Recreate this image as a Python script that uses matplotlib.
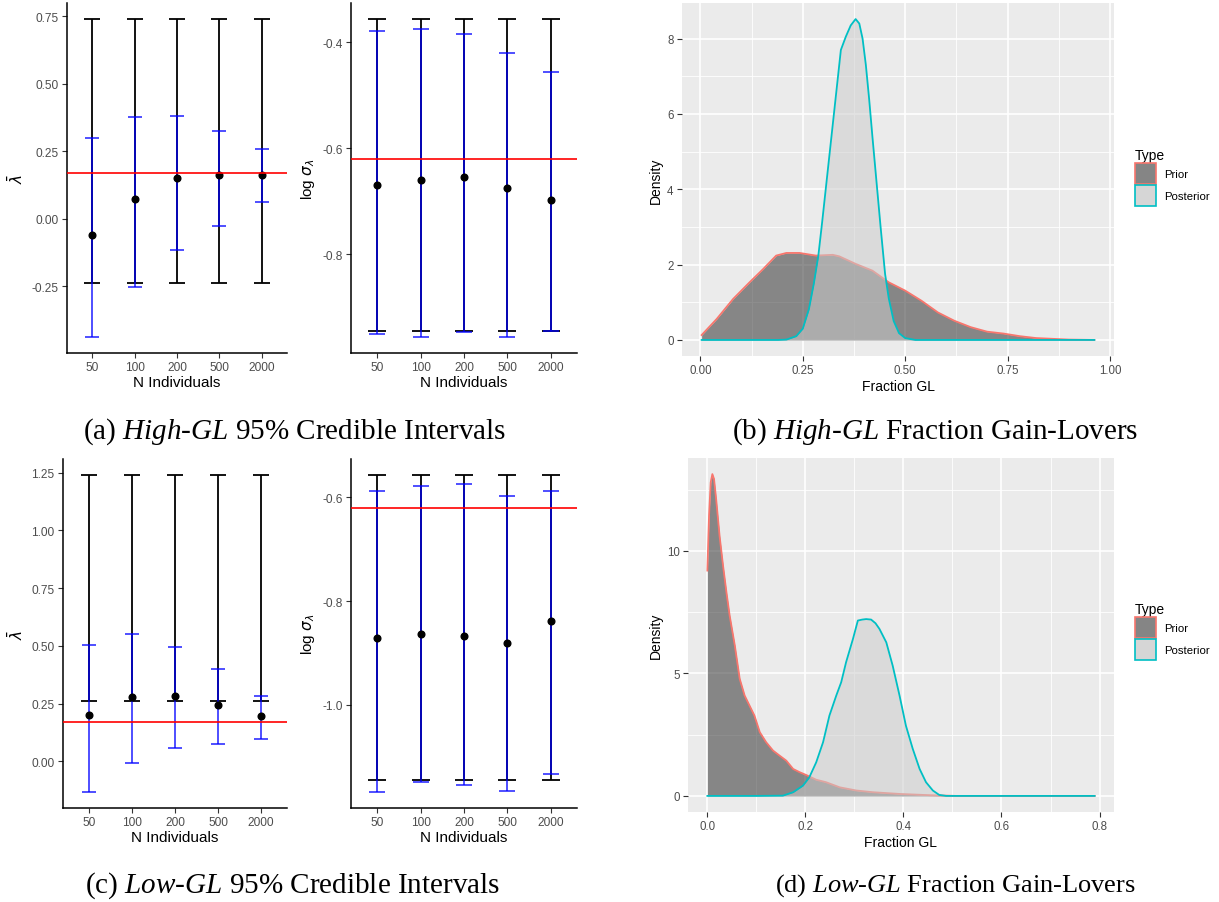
import matplotlib
matplotlib.use('Agg')
import matplotlib.pyplot as plt
from matplotlib.patches import Patch
from matplotlib.ticker import FixedLocator, FormatStrFormatter
import numpy as np

W, H = 1219, 903
plt.rcParams['font.family'] = ['Liberation Sans', 'DejaVu Sans']
plt.rcParams['axes.unicode_minus'] = False
plt.rcParams['mathtext.fontset'] = 'custom'
plt.rcParams['mathtext.rm'] = 'Liberation Serif'
plt.rcParams['mathtext.it'] = 'Liberation Serif:italic'

# ---------------- data ----------------
n_labels = ['50', '100', '200', '500', '2000']

# (a) High-GL, lambda-bar
a_black_lo = [-0.24, -0.24, -0.24, -0.24, -0.24]
a_black_hi = [0.74, 0.74, 0.74, 0.74, 0.74]
a_blue_lo = [-0.439, -0.254, -0.116, -0.026, 0.063]
a_blue_hi = [0.297, 0.376, 0.382, 0.325, 0.257]
a_point = [-0.059, 0.073, 0.150, 0.162, 0.162]
a_ref = 0.17

# (a) High-GL, log sigma
b_black_lo = [-0.944, -0.944, -0.944, -0.944, -0.944]
b_black_hi = [-0.356, -0.356, -0.356, -0.356, -0.356]
b_blue_lo = [-0.951, -0.956, -0.946, -0.956, -0.945]
b_blue_hi = [-0.379, -0.375, -0.384, -0.421, -0.456]
b_point = [-0.670, -0.660, -0.655, -0.674, -0.697]
b_ref = -0.62

# (c) Low-GL, lambda-bar
c_black_lo = [0.26, 0.26, 0.26, 0.26, 0.26]
c_black_hi = [1.24, 1.24, 1.24, 1.24, 1.24]
c_blue_lo = [-0.133, -0.009, 0.058, 0.076, 0.098]
c_blue_hi = [0.503, 0.552, 0.494, 0.402, 0.285]
c_point = [0.202, 0.277, 0.285, 0.244, 0.197]
c_ref = 0.17

# (c) Low-GL, log sigma
d_black_lo = [-1.144, -1.144, -1.144, -1.144, -1.144]
d_black_hi = [-0.557, -0.557, -0.557, -0.557, -0.557]
d_blue_lo = [-1.168, -1.148, -1.155, -1.166, -1.133]
d_blue_hi = [-0.589, -0.579, -0.574, -0.598, -0.589]
d_point = [-0.872, -0.863, -0.868, -0.880, -0.838]
d_ref = -0.62

# (b) High-GL densities
hp_x = [0.003, 0.04, 0.08, 0.12, 0.153, 0.185, 0.21, 0.242, 0.282, 0.323, 0.339,
        0.379, 0.42, 0.46, 0.50, 0.54, 0.58, 0.62, 0.66, 0.70, 0.74, 0.78, 0.82,
        0.86, 0.90, 0.962]
hp_y = [0.13, 0.56, 1.09, 1.53, 1.88, 2.24, 2.31, 2.31, 2.24, 2.26, 2.22,
        2.02, 1.84, 1.53, 1.31, 1.04, 0.73, 0.51, 0.34, 0.22, 0.17, 0.10, 0.05,
        0.03, 0.01, 0.0]
hq_x = [0.003, 0.10, 0.19, 0.21, 0.234, 0.25, 0.265, 0.277, 0.288, 0.297, 0.313,
        0.329, 0.343, 0.355, 0.367, 0.379, 0.388, 0.396, 0.404, 0.412, 0.42, 0.43,
        0.44, 0.451, 0.46, 0.472, 0.485, 0.50, 0.525, 0.60, 0.962]
hq_y = [0.0, 0.0, 0.0, 0.01, 0.10, 0.30, 0.82, 1.50, 2.24, 3.10, 4.70,
        6.30, 7.70, 8.05, 8.35, 8.52, 8.40, 8.00, 7.30, 6.40, 5.40, 4.20,
        3.00, 1.75, 1.10, 0.50, 0.18, 0.05, 0.0, 0.0, 0.0]

# (d) Low-GL densities
lp_x = [0.0, 0.0034, 0.0068, 0.0102, 0.0136, 0.018, 0.025, 0.032, 0.039, 0.0455,
        0.056, 0.066, 0.076, 0.086, 0.096, 0.107, 0.12, 0.134, 0.147, 0.161,
        0.175, 0.188, 0.202, 0.222, 0.242, 0.27, 0.304, 0.338, 0.392, 0.453,
        0.507, 0.79]
lp_y = [9.2, 11.44, 12.8, 13.14, 12.94, 12.1, 10.6, 9.4, 8.3, 7.36,
        6.14, 4.78, 4.1, 3.69, 3.28, 2.6, 2.19, 1.85, 1.65, 1.44,
        1.1, 0.97, 0.85, 0.66, 0.56, 0.35, 0.22, 0.15, 0.08, 0.03,
        0.0, 0.0]
lq_x = [0.0, 0.10, 0.154, 0.175, 0.195, 0.208, 0.222, 0.236, 0.249, 0.263, 0.273,
        0.283, 0.297, 0.307, 0.316, 0.324, 0.334, 0.343, 0.351, 0.365, 0.378,
        0.392, 0.405, 0.419, 0.433, 0.446, 0.46, 0.473, 0.487, 0.79]
lq_y = [0.0, 0.0, 0.01, 0.15, 0.42, 0.76, 1.37, 2.19, 3.28, 4.1, 4.64,
        5.46, 6.41, 7.16, 7.2, 7.22, 7.2, 7.05, 6.82, 6.27, 5.32,
        4.1, 2.87, 1.92, 1.1, 0.56, 0.22, 0.04, 0.0, 0.0]

legend_labels = ['Prior', 'Posterior']

# ---------------- figure ----------------
fig = plt.figure(figsize=(W / 100, H / 100), dpi=100)
fig.patch.set_facecolor('white')


def rect(l, t, r, b):
    return [l / W, 1 - b / H, (r - l) / W, (b - t) / H]


def ci_panel(r, pt, blo, bhi, klo, khi, ref, yticks, fmt, ylabel, cap_k, cap_b):
    ax = fig.add_axes(rect(*r))
    x = np.arange(1, len(n_labels) + 1)
    kl, kh = np.array(klo), np.array(khi)
    ax.errorbar(x, (kl + kh) / 2, yerr=(kh - kl) / 2, fmt='none', ecolor='black',
                elinewidth=1.3, capsize=cap_k, capthick=1.3, zorder=2)
    p = np.array(pt)
    ax.errorbar(x, p, yerr=[p - np.array(blo), np.array(bhi) - p], fmt='none',
                ecolor=(0, 0, 1, 0.75), elinewidth=1.3, capsize=cap_b, capthick=1.3,
                zorder=3)
    ax.plot(x, p, 'o', color='black', ms=4.8, zorder=4)
    ax.axhline(ref, color='red', lw=1.2, zorder=5)
    ax.set_xlim(0.4, 5.6)
    ax.margins(y=0.05)
    ax.set_xticks(x)
    ax.set_xticklabels(n_labels)
    ax.yaxis.set_major_locator(FixedLocator(yticks))
    ax.yaxis.set_major_formatter(FormatStrFormatter(fmt))
    for s in ['top', 'right']:
        ax.spines[s].set_visible(False)
    for s in ['left', 'bottom']:
        ax.spines[s].set_color('black')
        ax.spines[s].set_linewidth(1.1)
    ax.tick_params(direction='out', length=3.5, width=0.8, color='#333333',
                   labelcolor='#4D4D4D', labelsize=8.6, pad=2.5)
    ax.set_xlabel('N Individuals', fontsize=11, labelpad=1.5)
    ax.set_ylabel(ylabel, fontsize=11, labelpad=4, math_fontfamily='dejavusans')
    return ax


ci_panel((67, 4, 287, 354), a_point, a_blue_lo, a_blue_hi, a_black_lo, a_black_hi,
         a_ref, [-0.25, 0.0, 0.25, 0.5, 0.75], '%.2f', r'$\bar{\lambda}$', 5.7, 4.9)
ci_panel((351, 4, 577, 354), b_point, b_blue_lo, b_blue_hi, b_black_lo, b_black_hi,
         b_ref, [-0.8, -0.6, -0.4], '%.1f', r'log $\sigma_\lambda$', 6.8, 5.8)
ci_panel((63, 460, 287, 809), c_point, c_blue_lo, c_blue_hi, c_black_lo, c_black_hi,
         c_ref, [0.0, 0.25, 0.5, 0.75, 1.0, 1.25], '%.2f', r'$\bar{\lambda}$', 5.9, 5.1)
ci_panel((351, 460, 577, 809), d_point, d_blue_lo, d_blue_hi, d_black_lo, d_black_hi,
         d_ref, [-1.0, -0.8, -0.6], '%.1f', r'log $\sigma_\lambda$', 6.8, 5.8)


def dens_panel(r, px, py, qx, qy, xmaj, xmin, ymaj, ymin, xfmt, yfmt, leg_top):
    ax = fig.add_axes(rect(*r))
    ax.set_facecolor('#EBEBEB')
    ax.fill_between(px, 0, py, color='#333333', alpha=0.55, lw=0, zorder=2)
    ax.plot(px, py, color='#F8766D', lw=1.3, zorder=3)
    ax.fill_between(qx, 0, qy, color='#CCCCCC', alpha=0.55, lw=0, zorder=4)
    ax.plot(qx, qy, color='#00BFC4', lw=1.3, zorder=5)
    ax.margins(0.05)
    ax.xaxis.set_major_locator(FixedLocator(xmaj))
    ax.xaxis.set_minor_locator(FixedLocator(xmin))
    ax.yaxis.set_major_locator(FixedLocator(ymaj))
    ax.yaxis.set_minor_locator(FixedLocator(ymin))
    ax.xaxis.set_major_formatter(FormatStrFormatter(xfmt))
    ax.yaxis.set_major_formatter(FormatStrFormatter(yfmt))
    ax.grid(which='major', color='white', lw=1.2)
    ax.grid(which='minor', color='white', lw=0.6)
    ax.set_axisbelow(True)
    for s in ax.spines.values():
        s.set_visible(False)
    ax.tick_params(which='major', direction='out', length=3.5, width=0.8,
                   color='#333333', labelcolor='#4D4D4D', labelsize=8.3, pad=2.5)
    ax.tick_params(which='minor', length=0)
    ax.set_xlabel('Fraction GL', fontsize=10, labelpad=2)
    ax.set_ylabel('Density', fontsize=10, labelpad=3)
    handles = [Patch(facecolor='#858585', edgecolor='#F8766D', lw=1.2),
               Patch(facecolor='#D6D6D6', edgecolor='#00BFC4', lw=1.2)]
    fig.legend(handles, legend_labels, title='Type', loc='upper left',
               bbox_to_anchor=(1135 / W, 1 - leg_top / H), frameon=False,
               fontsize=8.2, title_fontsize=10, handlelength=1.85, handleheight=2.55,
               labelspacing=0.05, handletextpad=0.7, borderpad=0,
               borderaxespad=0, alignment='left')
    return ax


dens_panel((682, 4, 1114, 357), hp_x, hp_y, hq_x, hq_y,
           [0.0, 0.25, 0.5, 0.75, 1.0], [0.125, 0.375, 0.625, 0.875],
           [0, 2, 4, 6, 8], [1, 3, 5, 7], '%.2f', '%d', 149)
dens_panel((688, 459, 1114, 813), lp_x, lp_y, lq_x, lq_y,
           [0.0, 0.2, 0.4, 0.6, 0.8], [0.1, 0.3, 0.5, 0.7],
           [0, 5, 10], [2.5, 7.5, 12.5], '%.1f', '%d', 603)

captions = [
    (294.5, 432, r'(a) $\mathit{High}$-$\mathit{GL}$ 95% Credible Intervals', 21),
    (935, 432, r'(b) $\mathit{High}$-$\mathit{GL}$ Fraction Gain-Lovers', 21),
    (293, 886, r'(c) $\mathit{Low}$-$\mathit{GL}$ 95% Credible Intervals', 21),
    (955.5, 886, r'(d) $\mathit{Low}$-$\mathit{GL}$ Fraction Gain-Lovers', 19),
]
for cx, cy, s, fs in captions:
    fig.text(cx / W, 1 - cy / H, s, family='Liberation Serif', fontsize=fs,
             ha='center', va='center', math_fontfamily='custom')

fig.savefig('out.png', dpi=100, facecolor='white')
